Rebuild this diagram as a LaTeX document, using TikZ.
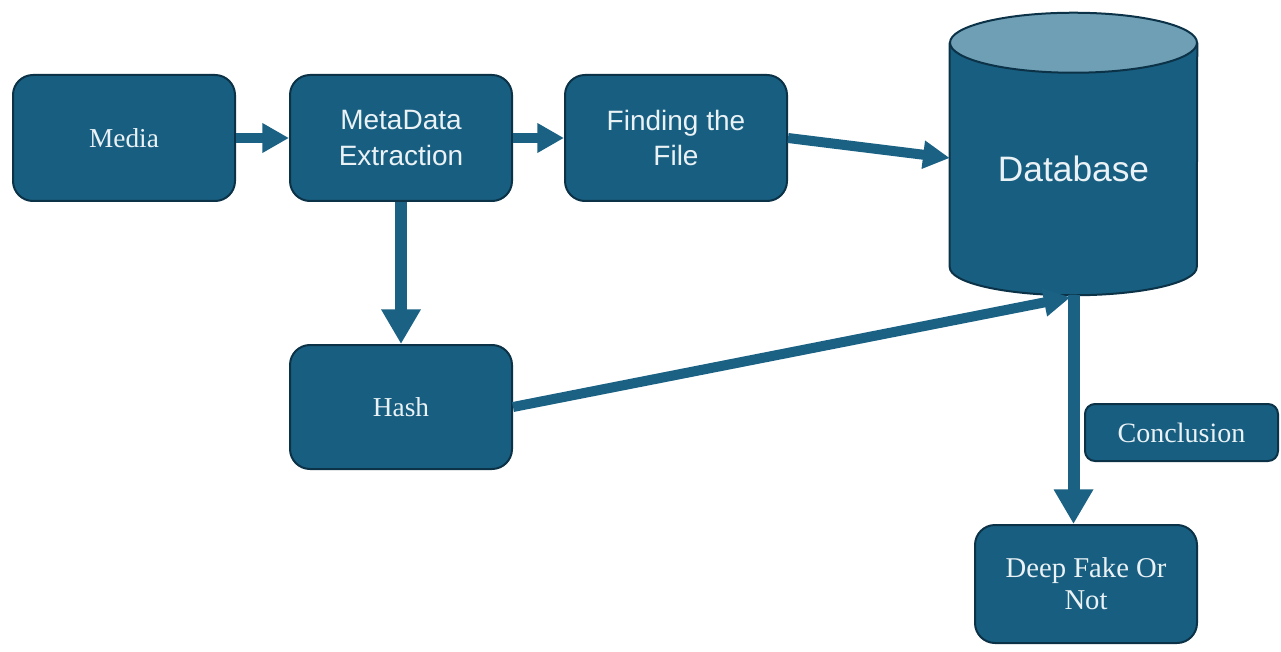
\documentclass[tikz,border=0pt]{standalone}
\usepackage{fontspec}
\setmainfont{Liberation Serif}
\newfontfamily\boxsans{Liberation Sans}
\usetikzlibrary{arrows.meta,calc}
\definecolor{boxfill}{HTML}{175E80}
\definecolor{boxline}{HTML}{0C3248}
\definecolor{dbtop}{HTML}{6E9FB5}
\definecolor{flow}{HTML}{1A6184}
\definecolor{ink}{HTML}{EAF2F6}
\begin{document}
\begin{tikzpicture}[x=0.75pt,y=-0.75pt,
  box/.style={draw=boxline, line width=1.5pt, fill=boxfill, rounded corners=15pt,
    text=ink, align=center, inner sep=0pt, minimum width=166.5pt, minimum height=94.5pt},
  serifbox/.style={box, font=\fontsize{20.5}{23.5}\selectfont},
  sansbox/.style={box, font=\boxsans\fontsize{21}{26.5}\selectfont},
  flowline/.style={draw=flow, line width=7pt, -{Triangle[length=20pt,width=21pt]}},
  slantline/.style={draw=flow, line width=7.5pt, -{Triangle[length=20pt,width=20pt]}},
  downline/.style={draw=flow, line width=9pt, -{Triangle[length=26pt,width=28pt]}},
  dbline/.style={draw=boxline, line width=1.5pt}]
\useasboundingbox (0,0) rectangle (1281,652);

% process boxes
\node[serifbox] (media) at (124,138) {Media};
\node[sansbox] (meta) at (401,138) {MetaData\\Extraction};
\node[sansbox] (fin) at (676,138) {Finding the\\File};
\node[serifbox, minimum height=93pt] (hash) at (401,407) {Hash};
\node[serifbox, minimum width=144.75pt, minimum height=42.75pt, rounded corners=7.5pt,
  font=\fontsize{21}{24}\selectfont] (concl) at (1181.5,432.5) {Conclusion};
\node[serifbox, minimum height=88.5pt, font=\fontsize{21.5}{24}\selectfont] (deep) at (1086,584) {Deep Fake Or\\Not};

% database cylinder
\node[minimum width=185.25pt, minimum height=211.5pt, inner sep=0pt] (db) at (1073.5,154) {};
\path[fill=boxfill] ($(db.north west)+(0,30)$) -- ($(db.south west)+(0,-28)$)
  arc[start angle=180, end angle=360, x radius=92.625pt, y radius=21pt]
  -- ($(db.north east)+(0,30)$) -- cycle;
\draw[dbline] ($(db.north west)+(0,30)$) -- ($(db.south west)+(0,-28)$)
  arc[start angle=180, end angle=360, x radius=92.625pt, y radius=21pt]
  -- ($(db.north east)+(0,30)$);
\draw[dbline, fill=dbtop] ($(db.north)+(0,30)$) ellipse[x radius=92.625pt, y radius=22.5pt];
\node[text=ink, font=\boxsans\fontsize{26.5}{30}\selectfont] (dblabel) at ($(db.center)+(0,15)$) {Database};

% connectors
\draw[flowline] (media.east) -- (meta.west);
\draw[flowline] (meta.east) -- (fin.west);
\draw[slantline] (fin.east) -- ($(db.west)+(0,4)$);
\draw[downline] (meta.south) -- (hash.north);
\draw[slantline] (hash.east) -- ($(db.south)+(-3,2)$);
\draw[downline] (db.south) -- (db.south |- deep.north);
\end{tikzpicture}
\end{document}
